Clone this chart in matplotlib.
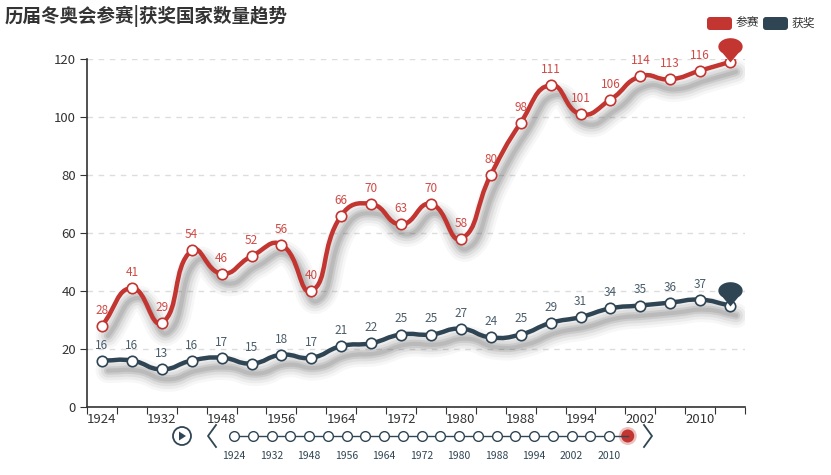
import numpy as np
import matplotlib
matplotlib.use('Agg')
import matplotlib.pyplot as plt
from matplotlib.path import Path
from matplotlib.patches import PathPatch, FancyBboxPatch, Circle, Polygon
import matplotlib.transforms as mtransforms

plt.rcParams['font.family'] = ['Noto Sans CJK SC', 'DejaVu Sans']

years = ['1924', '1928', '1932', '1936', '1948', '1952', '1956', '1960', '1964', '1968', '1972',
         '1976', '1980', '1984', '1988', '1992', '1994', '1998', '2002', '2006', '2010', '2014']
participants = [28, 41, 29, 54, 46, 52, 56, 40, 66, 70, 63, 70, 58, 80, 98, 111, 101, 106, 114, 113, 116, 119]
winners = [16, 16, 13, 16, 17, 15, 18, 17, 21, 22, 25, 25, 27, 24, 25, 29, 31, 34, 35, 36, 37, 35]
series_names = ['参赛', '获奖']
colors = ['#c23531', '#2f4554']
label_colors = ['#d04a46', '#4a5d6b']
title = '历届冬奥会参赛|获奖国家数量趋势'

W, H = 831, 475
fig = plt.figure(figsize=(W / 100, H / 100), dpi=100)
ax_l, ax_r, ax_t, ax_b = 87, 745, 59, 407
ax = fig.add_axes([ax_l / W, 1 - ax_b / H, (ax_r - ax_l) / W, (ax_b - ax_t) / H])
n = len(years)
ax.set_xlim(-0.5, n - 0.5)
ax.set_ylim(0, 120)

# px per data unit, used for echarts-like smoothing
sx = (ax_r - ax_l) / n
sy = (ax_b - ax_t) / 120.0


def smooth_path(xs, ys, smooth=0.5):
    pts = np.column_stack([np.asarray(xs, float) * sx, np.asarray(ys, float) * sy])
    m = len(pts)
    cps = []
    for i in range(m):
        p = pts[i]
        prev = pts[i - 1] if i > 0 else p
        nxt = pts[i + 1] if i < m - 1 else p
        v = nxt - prev
        d0 = np.hypot(*(p - prev))
        d1 = np.hypot(*(p - nxt))
        s = d0 + d1
        if s > 0:
            d0, d1 = d0 / s, d1 / s
        cps.append((p - v * smooth * d0, p + v * smooth * d1))
    verts = [pts[0]]
    codes = [Path.MOVETO]
    for i in range(m - 1):
        verts += [cps[i][1], cps[i + 1][0], pts[i + 1]]
        codes += [Path.CURVE4] * 3
    verts = np.array(verts) / np.array([sx, sy])
    return Path(verts, codes)


x = np.arange(n)
for vals, col, lcol in zip([participants, winners], colors, label_colors):
    path = smooth_path(x, vals)
    # blurred drop shadow
    tr = mtransforms.offset_copy(ax.transData, fig=fig, x=6, y=-10, units='dots')
    for lw, a in [(18, 0.04), (14, 0.06), (10, 0.08), (6, 0.12), (3, 0.12)]:
        ax.add_patch(PathPatch(path, fill=False, edgecolor='#444444', lw=lw, alpha=a,
                               transform=tr, capstyle='round', joinstyle='round', zorder=2))
    ax.add_patch(PathPatch(path, fill=False, edgecolor=col, lw=3.2, zorder=3,
                           capstyle='round', joinstyle='round'))
    ax.plot(x, vals, 'o', ms=7.5, mfc='white', mec=col, mew=1.2, zorder=4)
    for xi, v in zip(x, vals):
        ax.annotate(str(v), (xi, v), xytext=(0, 6.5), textcoords='offset points',
                    ha='center', va='bottom', fontsize=8.5, color=lcol, zorder=4)

# pin markers on last point
r, h = 1.0, 1.3
phi = np.arccos(r / h)
ang = np.linspace(-np.pi / 2 + phi, 3 * np.pi / 2 - phi, 40)
pin_verts = np.column_stack([r * np.cos(ang), h + 0.7 * r * np.sin(ang)])
pin_verts = np.vstack([[0, 0], pin_verts, [0, 0]])
pin = Path(pin_verts, closed=True)
for vals, col in zip([participants, winners], colors):
    ax.plot([x[-1]], [vals[-1]], marker=pin, ms=35, color=col, mew=0, zorder=6, clip_on=False)

# axes styling
ax.set_yticks(np.arange(0, 121, 20))
ax.grid(axis='y', color='#dddddd', ls=(0, (4, 4)), lw=1)
ax.set_axisbelow(True)
ax.set_xticks(np.arange(-0.5, n, 1), minor=False)
ax.set_xticklabels([])
ax.set_xticks(x[::2], minor=True)
ax.set_xticklabels(years[::2], minor=True)
ax.tick_params(axis='x', which='minor', length=0, pad=4, labelsize=9.5, labelcolor='#333333')
ax.tick_params(axis='x', which='major', length=5, color='#333333')
ax.tick_params(axis='y', length=5, color='#333333', labelsize=9.5, labelcolor='#333333', pad=3)
for s in ['top', 'right']:
    ax.spines[s].set_visible(False)
for s in ['left', 'bottom']:
    ax.spines[s].set_color('#333333')
    ax.spines[s].set_linewidth(1.2)

# overlay in pixel coordinates for title, legend, timeline
ov = fig.add_axes([0, 0, 1, 1], zorder=-1)
ov.set_xlim(0, W)
ov.set_ylim(H, 0)
ov.axis('off')
ov.patch.set_alpha(0)
fig.text(5 / W, 1 - 16 / H, title, fontsize=13.3, fontweight='bold', color='#333333', va='center')

leg_x = [707, 763]
for lx, name, col in zip(leg_x, series_names, colors):
    ov.add_patch(FancyBboxPatch((lx, 17), 25, 13, boxstyle='round,pad=0,rounding_size=3',
                                fc=col, ec='none'))
    ov.text(lx + 29, 23.5, name, fontsize=8.5, color='#333333', va='center', ha='left')

# timeline
tl_y = 436
tl_x0, tl_step = 234, 18.75
tl_col = '#304654'
tl_xs = tl_x0 + np.arange(n) * tl_step
ov.plot([tl_xs[0], tl_xs[-1]], [tl_y, tl_y], color=tl_col, lw=1)
ov.plot(tl_xs[:-1], [tl_y] * (n - 1), 'o', ms=7, mfc='white', mec=tl_col, mew=1)
ov.add_patch(Circle((tl_xs[-1], tl_y), 9, fc=colors[0], alpha=0.3, ec='none'))
ov.add_patch(Circle((tl_xs[-1], tl_y), 6.5, fc=colors[0], ec='none'))
for xi, yr in zip(tl_xs[::2], years[::2]):
    ov.text(xi, 456, yr, fontsize=7.5, color=tl_col, ha='center', va='center')
ov.add_patch(Circle((182, tl_y), 9, fc='none', ec=tl_col, lw=1.3))
ov.add_patch(Polygon([[179, 431.5], [179, 440.5], [186, 436]], closed=True, fc=tl_col, ec='none'))
ov.plot([216, 208, 216], [425, 436, 447], color=tl_col, lw=1.3)
ov.plot([644, 652, 644], [425, 436, 447], color=tl_col, lw=1.3)

fig.savefig('out.png', dpi=100)
